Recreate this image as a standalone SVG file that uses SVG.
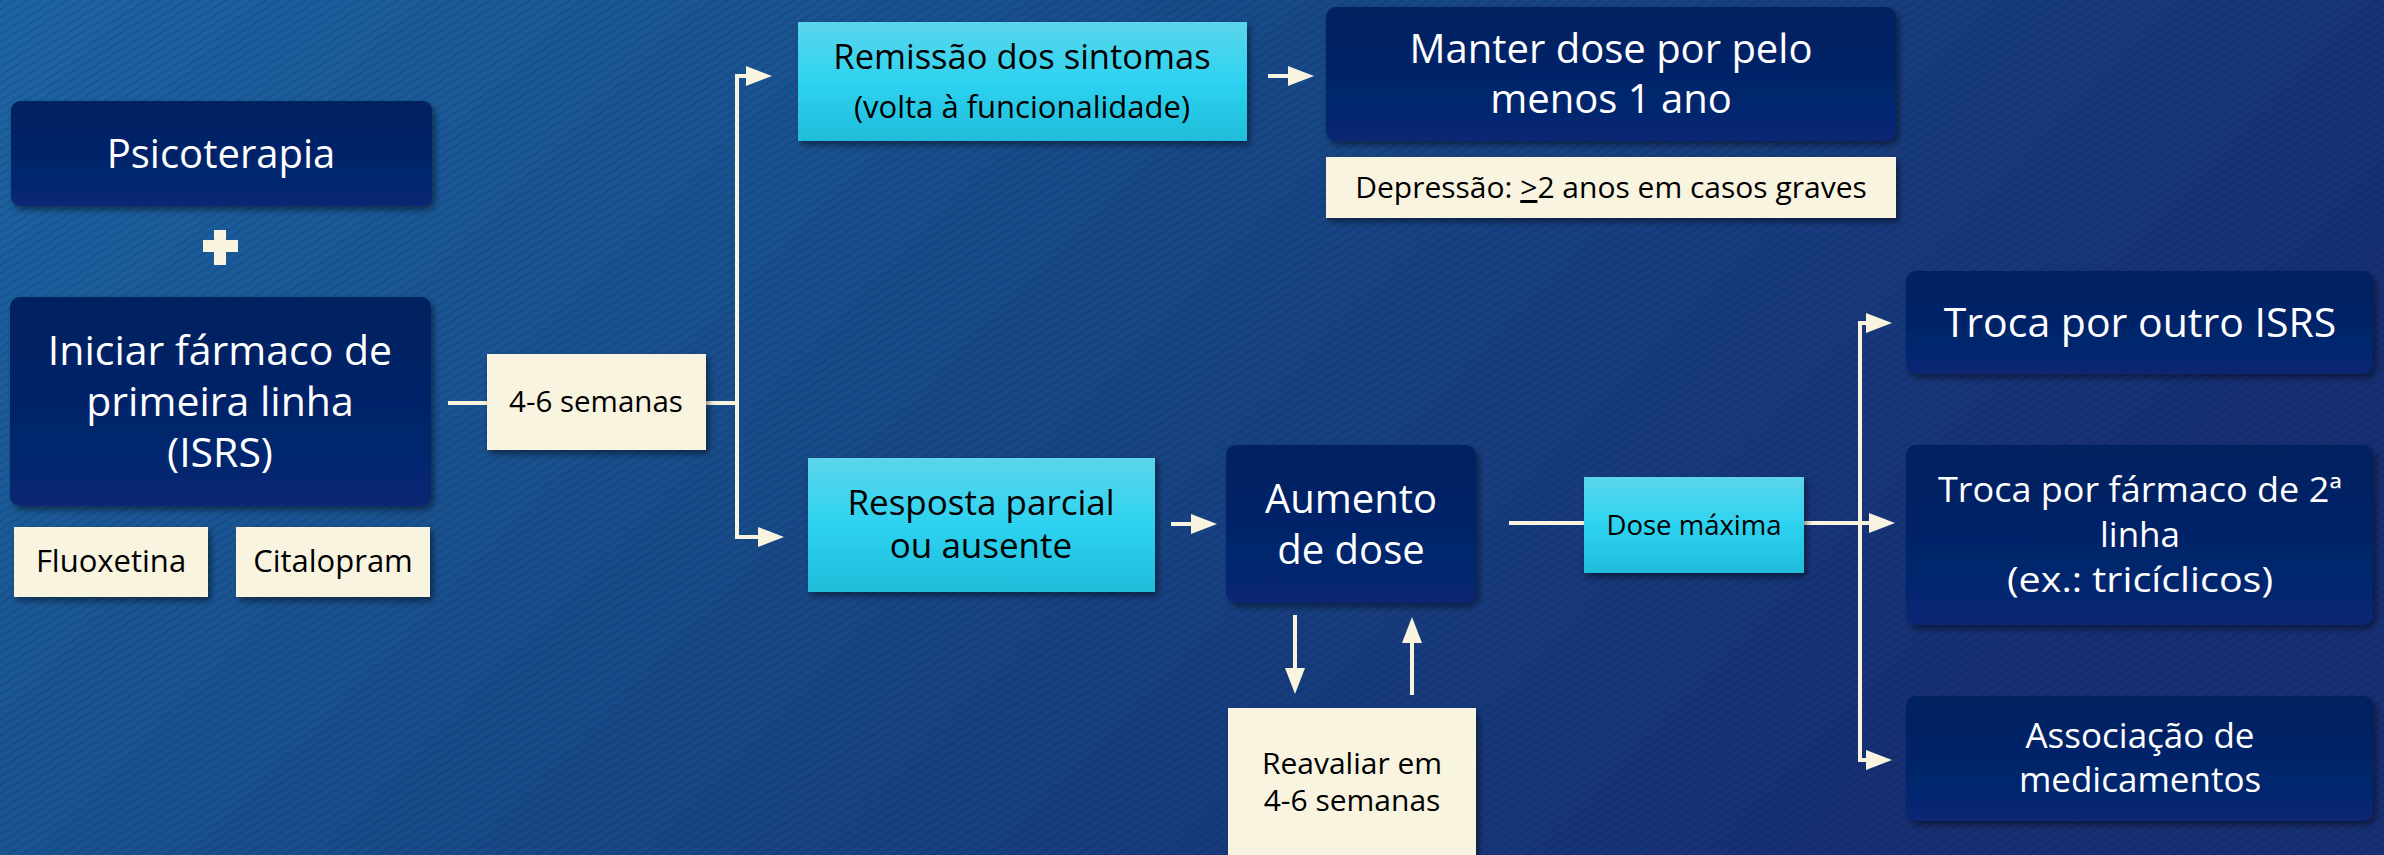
<svg xmlns="http://www.w3.org/2000/svg" width="2384" height="855" viewBox="0 0 2384 855">
<defs>
<linearGradient id="bg" x1="0" y1="0" x2="1" y2="0.35">
<stop offset="0" stop-color="#1D64A3"/>
<stop offset="0.5" stop-color="#174988"/>
<stop offset="1" stop-color="#172F74"/>
</linearGradient>
<pattern id="hatch" width="7" height="7" patternUnits="userSpaceOnUse" patternTransform="rotate(-32)">
<rect width="7" height="2" fill="#000" opacity="0.09"/>
</pattern>
<linearGradient id="cyan" x1="0" y1="0" x2="0" y2="1">
<stop offset="0" stop-color="#5CD5EC"/>
<stop offset="0.5" stop-color="#2DD3F0"/>
<stop offset="1" stop-color="#20BCDA"/>
</linearGradient>
<linearGradient id="navy" x1="0" y1="0" x2="0" y2="1">
<stop offset="0" stop-color="#03205F"/>
<stop offset="1" stop-color="#072874"/>
</linearGradient>
<filter id="sh" x="-10%" y="-10%" width="125%" height="130%">
<feDropShadow dx="3" dy="4" stdDeviation="3" flood-color="#000" flood-opacity="0.45"/>
</filter>
<marker id="ah" markerUnits="userSpaceOnUse" markerWidth="26" markerHeight="20" refX="1" refY="10" orient="auto">
<path d="M0,0 L26,10 L0,20 z" fill="#F8F4E0"/>
</marker>
</defs>
<style>
.navy{fill:url(#navy);filter:url(#sh)}
.cyan{fill:url(#cyan);filter:url(#sh)}
.cream{fill:#F8F4E0;filter:url(#sh)}
text{font-family:"Open Sans","Noto Sans",sans-serif;text-anchor:middle}
.w{fill:#FFFFFF}
.k{fill:#000000}
.conn{fill:none;stroke:#F8F4E0;stroke-width:4}
</style>
<rect width="2384" height="855" fill="url(#bg)"/>
<rect width="2384" height="855" fill="url(#hatch)"/>

<g id="connectors" class="conn">
<path d="M448,403 H487"/>
<path d="M706,403 H737"/>
<path d="M737,537 V76 H747" marker-end="url(#ah)"/>
<path d="M737,403 V537 H759" marker-end="url(#ah)"/>
<path d="M1268,76 H1289" marker-end="url(#ah)"/>
<path d="M1171,524 H1192" marker-end="url(#ah)"/>
<path d="M1295,615 V669" marker-end="url(#ah)"/>
<path d="M1412,695 V642" marker-end="url(#ah)"/>
<path d="M1509,523 H1584"/>
<path d="M1804,523 H1870" marker-end="url(#ah)"/>
<path d="M1860,760 V323 H1867" marker-end="url(#ah)"/>
<path d="M1860,323 V760 H1867" marker-end="url(#ah)"/>
</g>

<g id="psicoterapia">
<rect class="navy" x="11" y="101" width="421" height="105" rx="9"/>
<text class="w" x="221" y="168" font-size="40">Psicoterapia</text>
</g>
<g id="plus">
<path d="M214,230 H226 V240 H238 V252 H226 V265 H214 V252 H203 V240 H214 Z" fill="#F8F4E0"/>
</g>
<g id="iniciar">
<rect class="navy" x="10" y="297" width="421" height="209" rx="10"/>
<text class="w" font-size="41"><tspan x="220" y="365">Iniciar fármaco de</tspan><tspan x="220" y="416">primeira linha</tspan><tspan x="220" y="467">(ISRS)</tspan></text>
</g>
<g id="fluoxetina">
<rect class="cream" x="14" y="527" width="194" height="70"/>
<text class="k" x="111" y="572" font-size="31">Fluoxetina</text>
</g>
<g id="citalopram">
<rect class="cream" x="236" y="527" width="194" height="70"/>
<text class="k" x="333" y="572" font-size="31">Citalopram</text>
</g>
<g id="semanas">
<rect class="cream" x="487" y="354" width="219" height="96"/>
<text class="k" x="596" y="412" font-size="29.5">4-6 semanas</text>
</g>
<g id="remissao">
<rect class="cyan" x="798" y="22" width="449" height="119"/>
<text class="k" x="1022" y="69" font-size="34.5">Remissão dos sintomas</text>
<text class="k" x="1022" y="118" font-size="31">(volta à funcionalidade)</text>
</g>
<g id="manter">
<rect class="navy" x="1326" y="7" width="570" height="134" rx="10"/>
<text class="w" font-size="40"><tspan x="1611" y="63">Manter dose por pelo</tspan><tspan x="1611" y="113">menos 1 ano</tspan></text>
</g>
<g id="depressao">
<rect class="cream" x="1326" y="157" width="570" height="61"/>
<text class="k" x="1611" y="198" font-size="30">Depressão: <tspan text-decoration="underline">&gt;</tspan>2 anos em casos graves</text>
</g>
<g id="resposta">
<rect class="cyan" x="808" y="458" width="347" height="134"/>
<text class="k" font-size="35"><tspan x="981" y="515">Resposta parcial</tspan><tspan x="981" y="558">ou ausente</tspan></text>
</g>
<g id="aumento">
<rect class="navy" x="1226" y="445" width="250" height="158" rx="10"/>
<text class="w" font-size="40"><tspan x="1351" y="513">Aumento</tspan><tspan x="1351" y="564">de dose</tspan></text>
</g>
<g id="reavaliar">
<rect class="cream" x="1228" y="708" width="248" height="160"/>
<text class="k" font-size="30"><tspan x="1352" y="774">Reavaliar em</tspan><tspan x="1352" y="811">4-6 semanas</tspan></text>
</g>
<g id="dosemaxima">
<rect class="cyan" x="1584" y="477" width="220" height="96"/>
<text class="k" x="1694" y="535" font-size="27.5">Dose máxima</text>
</g>
<g id="troca-isrs">
<rect class="navy" x="1906" y="271" width="467" height="103" rx="10"/>
<text class="w" x="2140" y="337" font-size="41">Troca por outro ISRS</text>
</g>
<g id="troca-2linha">
<rect class="navy" x="1906" y="445" width="467" height="180" rx="10"/>
<text class="w" x="2140" y="502" font-size="35" textLength="404" lengthAdjust="spacingAndGlyphs">Troca por fármaco de 2ª</text>
<text class="w" x="2140" y="547" font-size="35">linha</text>
<text class="w" x="2140" y="592" font-size="35" textLength="266" lengthAdjust="spacingAndGlyphs">(ex.: tricíclicos)</text>
</g>
<g id="associacao">
<rect class="navy" x="1906" y="696" width="467" height="125" rx="10"/>
<text class="w" font-size="35"><tspan x="2140" y="748">Associação de</tspan><tspan x="2140" y="792">medicamentos</tspan></text>
</g>
</svg>
